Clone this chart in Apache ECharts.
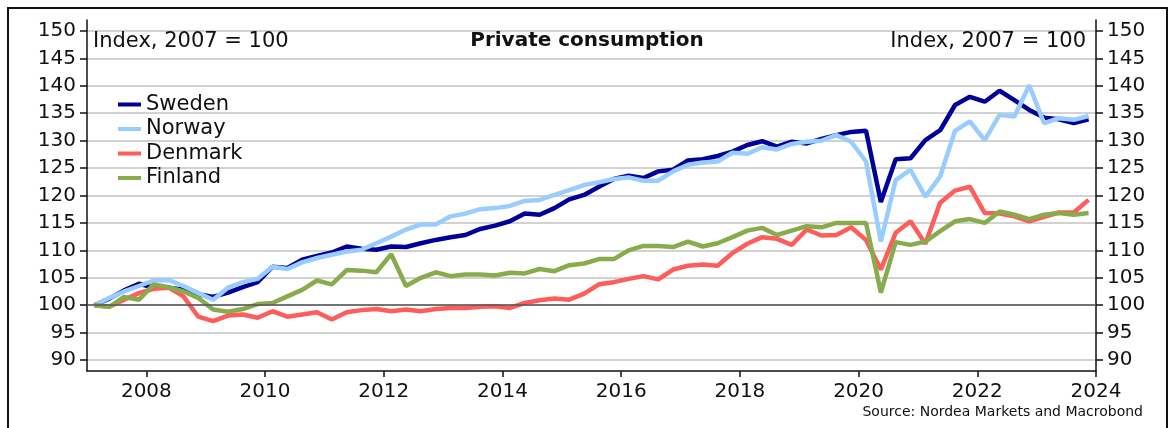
<!DOCTYPE html>
<html>
<head>
<meta charset="utf-8">
<script src="https://cdn.jsdelivr.net/npm/echarts@6/dist/echarts.min.js"></script>
<style>
	html, body { margin: 0; padding: 0; background: #fff; }
	#chart { width: 1174px; height: 428px; }
</style>
</head>
<body>
<div id="chart"></div>
<script>
	// quarterly index, 2007 = 100, 2007Q1 .. 2023Q4
	const startYear = 2007
	const endYear = 2023
	const sweden = [
		100, 101.2, 102.7, 103.9, 103.2, 103.2, 102.8, 102.0, 101.5, 102.3, 103.3, 104.2,
		107.0, 106.8, 108.3, 109.0, 109.6, 110.7, 110.3, 110.1, 110.7, 110.6, 111.3, 111.9,
		112.4, 112.8, 113.9, 114.5, 115.3, 116.7, 116.5, 117.7, 119.3, 120.1, 121.6, 123.0,
		123.6, 123.2, 124.4, 124.7, 126.4, 126.6, 127.2, 128.0, 129.2, 129.9, 128.9, 129.8,
		129.5, 130.3, 131.0, 131.6, 131.8, 118.8, 126.6, 126.8, 130.1, 131.9, 136.5, 138.0,
		137.1, 139.1, 137.4, 135.6, 134.2, 133.9, 133.2, 133.9
	]
	const norway = [
		100, 101.3, 102.5, 103.5, 104.5, 104.6, 103.5, 102.2, 101.0, 103.2, 104.2, 104.8,
		107.0, 106.6, 107.8, 108.6, 109.2, 109.8, 110.1, 111.3, 112.5, 113.8, 114.7, 114.7,
		116.2, 116.7, 117.5, 117.7, 118.1, 119.0, 119.2, 120.1, 121.0, 121.9, 122.4, 123.0,
		123.3, 122.7, 122.7, 124.4, 125.6, 126.0, 126.2, 127.8, 127.6, 128.8, 128.4, 129.4,
		129.8, 130.0, 131.0, 129.8, 126.2, 111.6, 122.8, 124.7, 119.8, 123.5, 131.8, 133.5,
		130.1, 134.7, 134.4, 140.1, 133.2, 134.1, 133.8, 134.5
	]
	const denmark = [
		100, 99.7, 101.0, 102.2, 103.0, 103.2, 101.6, 97.9, 97.1, 98.1, 98.3, 97.7,
		98.9, 97.9, 98.3, 98.7, 97.4, 98.7, 99.1, 99.3, 98.9, 99.2, 98.9, 99.3,
		99.5, 99.5, 99.7, 99.8, 99.5, 100.4, 100.9, 101.2, 101.0, 102.1, 103.8, 104.2,
		104.8, 105.3, 104.7, 106.5, 107.2, 107.4, 107.2, 109.5, 111.2, 112.4, 112.1, 111.0,
		113.8, 112.7, 112.8, 114.2, 111.9, 106.5, 113.2, 115.3, 111.2, 118.7, 120.9, 121.6,
		116.8, 116.7, 116.2, 115.3, 116.1, 116.9, 116.9, 119.2
	]
	const finland = [
		100, 99.7, 101.5, 101.0, 103.8, 103.3, 102.5, 101.3, 99.2, 98.8, 99.3, 100.2,
		100.4, 101.6, 102.8, 104.5, 103.8, 106.4, 106.3, 106.0, 109.3, 103.5, 105.0, 106.0,
		105.3, 105.6, 105.6, 105.4, 105.9, 105.8, 106.6, 106.2, 107.3, 107.6, 108.4, 108.4,
		110.0, 110.8, 110.8, 110.6, 111.6, 110.7, 111.3, 112.4, 113.6, 114.1, 112.8, 113.6,
		114.4, 114.2, 115.0, 115.0, 115.0, 102.3, 111.5, 111.0, 111.6, 113.5, 115.3, 115.7,
		115.0, 117.1, 116.5, 115.7, 116.5, 116.8, 116.5, 116.8
	]
	const yTicks = [90, 95, 100, 105, 110, 115, 120, 125, 130, 135, 140, 145, 150]
	const xTicks = [2008, 2010, 2012, 2014, 2016, 2018, 2020, 2022, 2024]

	// quarter labels, placed at the middle of each quarter on the time axis
	const quarters = []
	for (let y = startYear; y <= endYear; y++) {
		for (let q = 1; q <= 4; q++) quarters.push(y + 'Q' + q)
	}
	const quarterPos = quarters.map(s => +s.slice(0, 4) + (+s.slice(5) - 0.5) / 4)
	const pairs = vals => vals.map((v, i) => [quarterPos[i], v])

	const font = 'DejaVu Sans'
	const chart = echarts.init(document.getElementById('chart'))

	const yAxisBase = {
		type: 'value',
		min: 88,
		max: 152,
		axisLine: { show: true, lineStyle: { color: '#111', width: 1.5 } },
		axisTick: { show: true, length: 7, customValues: yTicks, lineStyle: { color: '#111', width: 1.5 } },
		axisLabel: { customValues: yTicks, color: '#111', fontSize: 20, fontFamily: font, margin: 11 }
	}

	const lineSeries = (name, data, color) => ({
		name: name,
		type: 'line',
		data: pairs(data),
		symbol: 'none',
		z: 3,
		lineStyle: { color: color, width: 4.5 },
		itemStyle: { color: color }
	})

	const option = {
		animation: false,
		textStyle: { fontFamily: font },
		title: [
			{ text: 'Index, 2007 = 100', left: 93, top: 31, padding: 0,
				textStyle: { fontSize: 21, fontWeight: 'normal', color: '#111', fontFamily: font } },
			{ text: 'Private consumption', left: 'center', top: 31, padding: 0,
				textStyle: { fontSize: 20, fontWeight: 'bold', color: '#111', fontFamily: font } },
			{ text: 'Index, 2007 = 100', right: 88, top: 31, padding: 0,
				textStyle: { fontSize: 21, fontWeight: 'normal', color: '#111', fontFamily: font } },
			{ text: 'Source: Nordea Markets and Macrobond', right: 31, top: 405, padding: 0,
				textStyle: { fontSize: 14, fontWeight: 'normal', color: '#111', fontFamily: font } }
		],
		legend: {
			orient: 'vertical',
			left: 118,
			top: 94,
			itemWidth: 23,
			itemHeight: 4,
			itemGap: 3.5,
			icon: 'rect',
			padding: 0,
			textStyle: { fontSize: 21, color: '#111', fontFamily: font },
			data: ['Sweden', 'Norway', 'Denmark', 'Finland']
		},
		grid: { left: 87, right: 78, top: 20, bottom: 57 },
		xAxis: {
			type: 'value',
			min: 2007,
			max: 2024,
			axisLine: { onZero: false, lineStyle: { color: '#111', width: 1.5 } },
			axisTick: { show: true, length: 6, customValues: xTicks, lineStyle: { color: '#111', width: 1.5 } },
			axisLabel: { customValues: xTicks, color: '#111', fontSize: 20, fontFamily: font, margin: 11,
				formatter: v => String(v) },
			splitLine: { show: false }
		},
		yAxis: [
			Object.assign({}, yAxisBase, {
				position: 'left',
				splitLine: { show: true, lineStyle: { color: '#d2d2d2', width: 2 } }
			}),
			Object.assign({}, yAxisBase, {
				position: 'right',
				splitLine: { show: false }
			})
		],
		graphic: [{
			type: 'rect',
			silent: true,
			shape: { x: 8, y: 8, width: 1159, height: 440 },
			style: { fill: 'none', stroke: '#111', lineWidth: 2 }
		}],
		series: [
			{
				// base line at 100
				name: 'base',
				type: 'line',
				data: [],
				z: 1,
				markLine: {
					silent: true,
					symbol: 'none',
					label: { show: false },
					lineStyle: { color: '#555', width: 1.5, type: 'solid' },
					data: [{ yAxis: 100 }]
				}
			},
			lineSeries('Sweden', sweden, '#000099'),
			lineSeries('Norway', norway, '#99CCFF'),
			lineSeries('Denmark', denmark, '#FF5C5C'),
			lineSeries('Finland', finland, '#88AC4C')
		]
	}
	chart.setOption(option)
</script>
</body>
</html>
